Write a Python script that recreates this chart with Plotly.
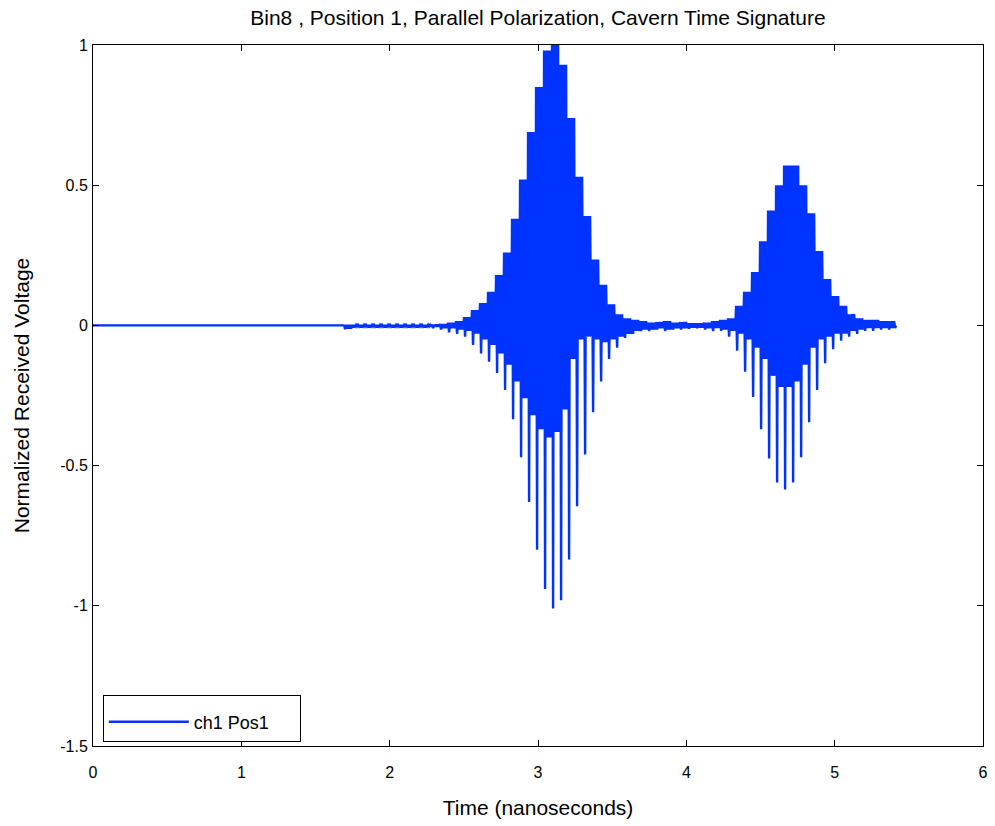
import plotly.graph_objects as go

# ---- data ----
title_text = "Bin8 , Position 1, Parallel Polarization, Cavern Time Signature"
legend_name = "ch1 Pos1"
x_ticks = [0, 1, 2, 3, 4, 5, 6]
y_ticks = [-1.5, -1, -0.5, 0, 0.5, 1]
y_tick_labels = ["-1.5", "-1", "-0.5", "0", "0.5", "1"]

# signal starts flat at zero
flat_t = [0.0, 1.69]
flat_v = [0.0, 0.0]

# oscillating part: one row per ~0.054 ns cycle group starting at t0
t0 = 1.6925
cycle = 0.05394
# positive peak, shallow negative (fill) and deep negative spike for each cycle group
pos_peak = [0.002, 0.002, 0.002, 0.002, 0.002, 0.002, 0.002, 0.002, 0.002, 0.002, 0.002, 0.003,
            0.005, 0.01, 0.015, 0.03, 0.055, 0.08, 0.12, 0.18, 0.26, 0.38, 0.52, 0.69,
            0.85, 0.98, 1.00, 0.93, 0.74, 0.53, 0.39, 0.235, 0.145, 0.075, 0.04, 0.025,
            0.02, 0.015, 0.01, 0.012, 0.015, 0.01, 0.012, 0.008, 0.008, 0.01, 0.015, 0.02,
            0.025, 0.07, 0.12, 0.19, 0.30, 0.41, 0.50, 0.57, 0.57, 0.50, 0.40, 0.265,
            0.165, 0.105, 0.07, 0.04, 0.025, 0.02, 0.02, 0.015, 0.015]
neg_fill = [0.012, 0.004, 0.004, 0.004, 0.004, 0.004, 0.004, 0.004, 0.004, 0.004, 0.004, 0.005,
            0.01, 0.01, 0.015, 0.02, 0.03, 0.05, 0.07, 0.10, 0.14, 0.20, 0.26, 0.32,
            0.37, 0.40, 0.38, 0.30, 0.12, 0.05, 0.04, 0.05, 0.06, 0.05, 0.04, 0.03,
            0.02, 0.015, 0.015, 0.01, 0.015, 0.01, 0.01, 0.008, 0.008, 0.01, 0.01, 0.015,
            0.02, 0.03, 0.05, 0.08, 0.12, 0.18, 0.22, 0.22, 0.20, 0.14, 0.08, 0.05,
            0.04, 0.03, 0.03, 0.02, 0.015, 0.01, 0.01, 0.01, 0.01]
neg_spike = [0.014, 0.008, 0.008, 0.008, 0.008, 0.008, 0.008, 0.008, 0.008, 0.008, 0.008, 0.01,
             0.015, 0.025, 0.03, 0.04, 0.07, 0.10, 0.13, 0.17, 0.23, 0.335, 0.47, 0.63,
             0.80, 0.94, 1.01, 0.98, 0.835, 0.645, 0.46, 0.31, 0.20, 0.12, 0.08, 0.045,
             0.03, 0.02, 0.02, 0.015, 0.02, 0.015, 0.015, 0.012, 0.01, 0.015, 0.02, 0.02,
             0.04, 0.09, 0.165, 0.255, 0.37, 0.475, 0.56, 0.585, 0.56, 0.47, 0.345, 0.23,
             0.135, 0.085, 0.055, 0.04, 0.03, 0.02, 0.02, 0.015, 0.015]

# ---- build the trace: each cycle group = one deep spike then 3 shallow swings ----
t = list(flat_t)
v = list(flat_v)
q = cycle / 8.0
for k, (p, f, n) in enumerate(zip(pos_peak, neg_fill, neg_spike)):
    base = t0 + k * cycle
    t += [base + i * q for i in range(8)]
    v += [p, -n, p, -f, p, -f, p, -f]
t.append(t0 + len(pos_peak) * cycle)
v.append(0.0)

font_family = "Liberation Sans, Arial, sans-serif"
tick_font = dict(family=font_family, size=16, color="black")
label_font = dict(family=font_family, size=21, color="black")

fig = go.Figure()
fig.add_trace(go.Scatter(
    x=t, y=v, mode="lines", name=legend_name + "\u00a0" * 5,
    line=dict(color="#0033ff", width=2.4, simplify=False),
))

axis_common = dict(
    showline=True, linecolor="black", linewidth=1, mirror="ticks",
    ticks="inside", ticklen=6, tickcolor="black", tickwidth=1,
    showgrid=False, zeroline=False, automargin=False,
    tickfont=tick_font,
)

fig.update_layout(
    width=995, height=826,
    paper_bgcolor="white", plot_bgcolor="white",
    margin=dict(l=93, r=12, t=45, b=80),
    title=dict(text=title_text, x=0.5, xref="paper", xanchor="center",
               y=0.988, yanchor="top", font=label_font),
    xaxis=dict(range=[0, 6], tickvals=x_ticks, ticktext=[str(x) for x in x_ticks],
               ticklabelstandoff=12,
               title=dict(text="Time (nanoseconds)", standoff=20, font=label_font),
               **axis_common),
    yaxis=dict(range=[-1.5, 1], tickvals=y_ticks, ticktext=y_tick_labels,
               ticklabelstandoff=1,
               title=dict(text="Normalized Received Voltage", standoff=24, font=label_font),
               **axis_common),
    showlegend=True,
    legend=dict(x=0.011, y=0.006, xanchor="left", yanchor="bottom",
                bordercolor="black", borderwidth=1, bgcolor="white",
                font=dict(family=font_family, size=18, color="black"),
                itemwidth=80,
                title=dict(text="\u00a0", font=dict(size=6))),
)

fig.write_html("out.html")
